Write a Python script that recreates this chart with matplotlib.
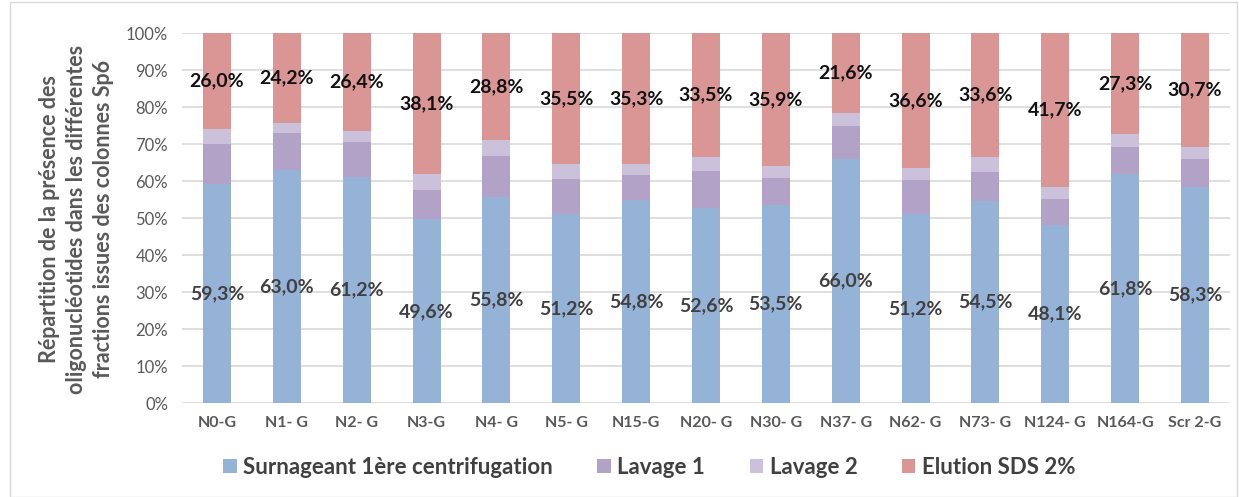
import numpy as np
import matplotlib

matplotlib.use("Agg")
import matplotlib.pyplot as plt
from matplotlib.patches import Rectangle

categories = ["N0-G", "N1- G", "N2- G", "N3-G", "N4- G", "N5- G", "N15-G",
              "N20- G", "N30- G", "N37- G", "N62- G", "N73- G", "N124- G",
              "N164-G", "Scr 2-G"]
surnageant = [59.3, 63.0, 61.2, 49.6, 55.8, 51.2, 54.8, 52.6, 53.5, 66.0,
              51.2, 54.5, 48.1, 61.8, 58.3]
lavage1 = [10.8, 9.9, 9.4, 7.9, 11.0, 9.3, 6.9, 10.0, 7.2, 8.8, 9.0, 7.8,
           7.0, 7.4, 7.7]
lavage2 = [3.9, 2.9, 3.0, 4.4, 4.4, 4.0, 3.0, 3.9, 3.4, 3.6, 3.2, 4.1,
           3.2, 3.5, 3.3]
elution = [26.0, 24.2, 26.4, 38.1, 28.8, 35.5, 35.3, 33.5, 35.9, 21.6,
           36.6, 33.6, 41.7, 27.3, 30.7]
series_names = ["Surnageant 1ère centrifugation", "Lavage 1", "Lavage 2",
                "Elution SDS 2%"]
colors = ["#95B3D7", "#B3A2C7", "#CCC1DA", "#D99694"]

plt.rcParams["font.family"] = ["Lato", "DejaVu Sans"]

fig = plt.figure(figsize=(12.39, 4.97), dpi=100)
ax = fig.add_axes([0.1469, 0.1891, 0.8458, 0.7445])

x = np.arange(len(categories))
data = [np.array(surnageant), np.array(lavage1), np.array(lavage2),
        np.array(elution)]
bottom = np.zeros(len(categories))
for vals, name, c in zip(data, series_names, colors):
    ax.bar(x, vals, 0.4, bottom=bottom, color=c, label=name, zorder=3)
    if name in (series_names[0], series_names[3]):
        tc = "#404040" if name == series_names[0] else "#111111"
        for xi, b, v in zip(x, bottom, vals):
            ax.text(xi, b + v / 2, f"{v:.1f}".replace(".", ",") + "%",
                    ha="center", va="center", fontsize=14,
                    fontweight="bold", color=tc, zorder=4)
    bottom = bottom + vals

ax.set_xlim(-0.5, len(categories) - 0.5)
ax.set_ylim(0, 100)
ax.set_yticks(np.arange(0, 101, 10))
ax.set_yticklabels([f"{t}%" for t in range(0, 101, 10)])
ax.set_xticks(x)
ax.set_xticklabels(categories)
ax.tick_params(axis="y", length=0, labelsize=12, colors="#595959", pad=10)
ax.tick_params(axis="x", length=0, labelsize=11.5, colors="#595959", pad=9)
for lab in ax.get_xticklabels():
    lab.set_fontweight("bold")
ax.grid(axis="y", color="#D9D9D9", lw=1.2, zorder=0)
for s in ax.spines.values():
    s.set_visible(False)

fig.text(0.062, 0.559,
         "Répartition de la présence des\n"
         "oligonucléotides dans les différentes\n"
         "fractions issues des colonnes Sp6",
         rotation=90, ha="center", va="center", fontsize=15.5,
         fontweight="bold", color="#595959", linespacing=1.35)

fig.legend(loc="center", bbox_to_anchor=(0.524, 0.06), ncol=4,
           frameon=False, prop={"size": 16, "weight": "bold"},
           handlelength=0.6, handleheight=0.6,
           handletextpad=0.3, columnspacing=2.0, labelcolor="#404040")

fig.patches.append(Rectangle((0.008, 0.0), 0.99, 0.995,
                             transform=fig.transFigure, fill=False,
                             edgecolor="#D9D9D9", lw=1))

fig.savefig("out.png", dpi=100)
